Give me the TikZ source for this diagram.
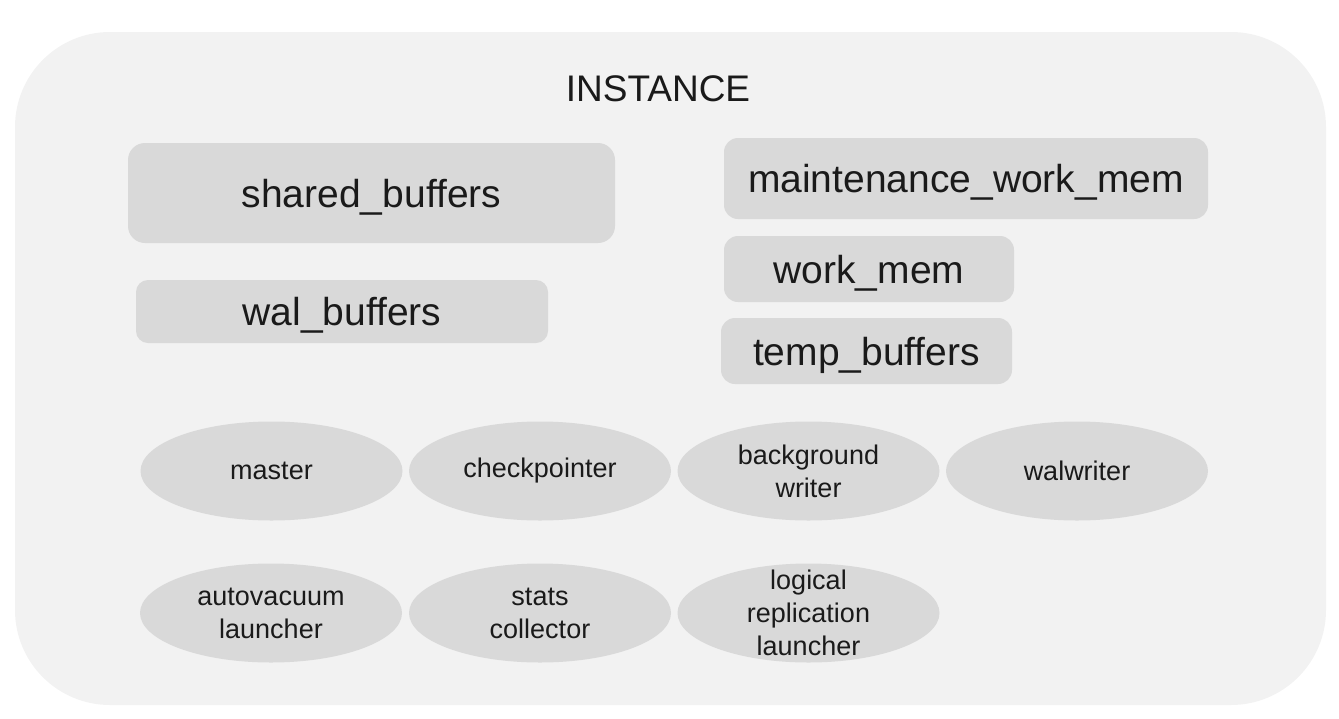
\documentclass[tikz,border=0pt]{standalone}
\usepackage{fontspec}
\setmainfont{Liberation Sans}
\usetikzlibrary{shapes.geometric}
\definecolor{instfill}{HTML}{F2F2F2}
\definecolor{partfill}{HTML}{D9D9D9}
\definecolor{txt}{HTML}{1A1A1A}

\begin{document}
\begin{tikzpicture}
  [x=1pt,y=-1pt,every node/.style={inner sep=0pt,text=txt},
   mem/.style={rectangle,rounded corners=14pt,fill=partfill,
     font=\fontsize{39}{42}\selectfont,text height=28pt,text depth=0pt},
   proc/.style={ellipse,fill=partfill,minimum width=262pt,minimum height=99pt},
   proclabel/.style={align=center,font=\fontsize{27}{33}\selectfont}]
  \useasboundingbox (0,0) rectangle (1339,718);
  \node[rectangle,rounded corners=95pt,fill=instfill,
    minimum width=1311pt,minimum height=673pt] (inst) at (670.5,368.5) {};
  \node[font=\fontsize{37}{40}\selectfont] (title) at (658,89) {INSTANCE};
  % memory areas
  \node[mem,rounded corners=17pt,minimum width=487pt,minimum height=100pt] (shared) at (371.5,193) {shared\_buffers};
  \node[mem,rounded corners=12pt,minimum width=412pt,minimum height=63pt] (wal) at (342,311.5) {wal\_buffers};
  \node[mem,minimum width=484pt,minimum height=81pt] (maint) at (966,178.5) {maintenance\_work\_mem};
  \node[mem,minimum width=290pt,minimum height=66pt] (work) at (869,269) {work\_mem};
  \node[mem,minimum width=291pt,minimum height=66pt] (temp) at (866.5,351) {temp\_buffers};
  % processes
  \foreach \name/\x/\y/\label in {master/271.5/471/master,ckpt/540/471/checkpointer,
      bgwriter/808.5/471/{background\\writer},walwriter/1077/471/walwriter,
      autovac/271/613/{autovacuum\\launcher},stats/540/613/{stats\\collector},
      logrep/808.5/613/{logical\\replication\\launcher}}
  {
    \node[proc] (\name) at (\x,\y) {};
    \node[proclabel] (\name-text) at (\name.center) {\label};
  }
\end{tikzpicture}
\end{document}
